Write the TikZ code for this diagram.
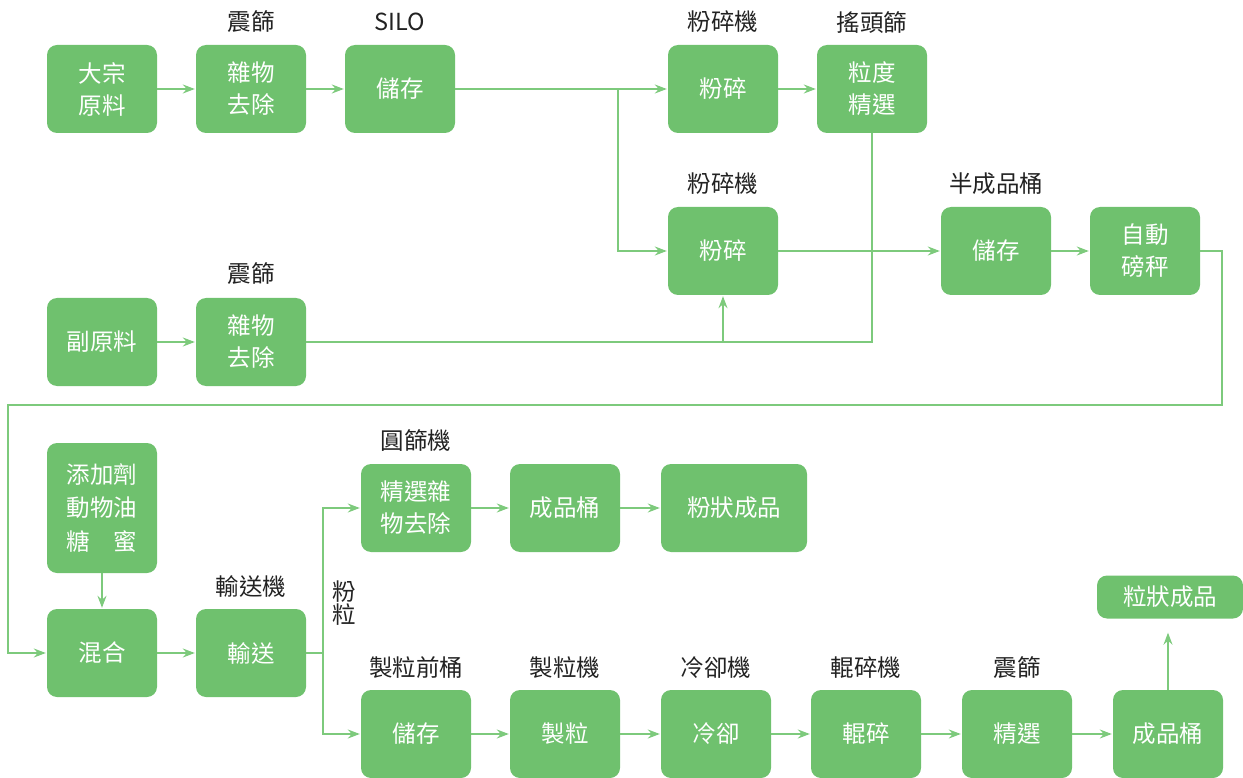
\documentclass[tikz,border=0pt]{standalone}
\usepackage{fontspec}
\setmainfont{Noto Sans CJK TC}
\usetikzlibrary{arrows.meta}
\definecolor{boxgreen}{RGB}{111,193,110}
\definecolor{linegreen}{RGB}{125,202,124}
\definecolor{tagdark}{RGB}{34,34,34}
\newcommand\procfont{\fontsize{23.5}{32}\selectfont}
\newcommand\tagfont{\fontsize{23.5}{21}\selectfont}
\tikzset{
  proc/.style={rectangle, rounded corners=10pt, fill=boxgreen, text=white,
    minimum width=110pt, minimum height=88pt, inner sep=0pt, align=center, font=\procfont},
  tag/.style={text=tagdark, inner sep=0pt, align=center, font=\tagfont},
  flow/.style={draw=linegreen, line width=1.2pt, -{Stealth[length=12pt,width=9pt,inset=4pt]}, shorten >=1pt},
  pipe/.style={draw=linegreen, line width=1.2pt}
}
\begin{document}
\begin{tikzpicture}[x=1pt, y=-1pt]
  \useasboundingbox (0,0) rectangle (1243,778);
  \def\rowA{89} \def\rowB{251} \def\rowC{342}
  \def\rowD{508} \def\rowE{653} \def\rowF{734}
  \node[proc] (rawA) at (102,\rowA) {大宗\\原料};
  \node[proc] (sieveA) at (251,\rowA) {雜物\\去除};
  \node[proc] (silo) at (400,\rowA) {儲存};
  \node[proc] (millA) at (723,\rowA) {粉碎};
  \node[proc] (grade) at (872,\rowA) {粒度\\精選};
  \node[proc] (millB) at (723,\rowB) {粉碎};
  \node[proc] (semibin) at (996,\rowB) {儲存};
  \node[proc] (scale) at (1145,\rowB) {自動\\磅秤};
  \node[proc] (rawB) at (102,\rowC) {副原料};
  \node[proc] (sieveB) at (251,\rowC) {雜物\\去除};
  \node[proc, minimum height=130pt, font=\fontsize{23.5}{33.5}\selectfont] (additive) at (102,\rowD) {添加劑\\動物油\\糖　蜜};
  \node[proc] (mix) at (102,\rowE) {混合};
  \node[proc] (convey) at (251,\rowE) {輸送};
  \node[proc] (screen) at (416,\rowD) {精選雜\\物去除};
  \node[proc] (powderbin) at (565,\rowD) {成品桶};
  \node[proc, minimum width=146pt] (powder) at (734,\rowD) {粉狀成品};
  \node[proc] (prebin) at (416,\rowF) {儲存};
  \node[proc] (pellet) at (565,\rowF) {製粒};
  \node[proc] (cool) at (716,\rowF) {冷卻};
  \node[proc] (crumble) at (866,\rowF) {輥碎};
  \node[proc] (sift) at (1017,\rowF) {精選};
  \node[proc] (granbin) at (1168,\rowF) {成品桶};
  \node[proc, minimum width=146pt, minimum height=43pt] (granule) at (1170,597) {粒狀成品};
  \node[tag] (tagsieveA) at (251,22) {震篩};
  \node[tag] (tagsilo) at (400,22) {SILO};
  \node[tag] (tagmillA) at (723,22) {粉碎機};
  \node[tag] (taggrade) at (872,22) {搖頭篩};
  \node[tag] (tagmillB) at (723,184) {粉碎機};
  \node[tag] (tagsemibin) at (996,184) {半成品桶};
  \node[tag] (tagsieveB) at (251,274) {震篩};
  \node[tag] (tagscreen) at (416,441) {圓篩機};
  \node[tag] (tagconvey) at (251,587) {輸送機};
  \node[tag, font=\fontsize{23.5}{21.5}\selectfont] (tagsplit) at (344,603) {粉\\粒};
  \node[tag] (tagprebin) at (416,668) {製粒前桶};
  \node[tag] (tagpellet) at (565,668) {製粒機};
  \node[tag] (tagcool) at (716,668) {冷卻機};
  \node[tag] (tagcrumble) at (866,668) {輥碎機};
  \node[tag] (tagsift) at (1017,668) {震篩};
  \coordinate (splitA) at (618,\rowA);
  \coordinate (joinA) at (872,\rowC);
  \coordinate (loopA) at (1222,\rowB);
  \coordinate (loopB) at (1222,405);
  \coordinate (loopC) at (8,405);
  \coordinate (loopD) at (8,\rowE);
  \coordinate (splitB) at (323,\rowE);
  \draw[flow] (rawA) -- (sieveA);
  \draw[flow] (sieveA) -- (silo);
  \draw[flow] (silo) -- (millA);
  \draw[flow] (splitA) |- (millB);
  \draw[flow] (millA) -- (grade);
  \draw[flow] (grade.south) -- (joinA) -| (millB.south);
  \draw[pipe] (sieveB.east) -- (sieveB.east -| millB.south);
  \draw[flow] (millB) -- (semibin);
  \draw[flow] (semibin) -- (scale);
  \draw[flow] (scale.east) -- (loopA) -- (loopB) -- (loopC) -- (loopD) -- (mix.west);
  \draw[flow] (rawB) -- (sieveB);
  \draw[flow] (additive) -- (mix);
  \draw[flow] (mix) -- (convey);
  \draw[pipe] (convey.east) -- (splitB);
  \draw[flow] (splitB) |- (screen.west);
  \draw[flow] (splitB) |- (prebin.west);
  \draw[flow] (screen) -- (powderbin);
  \draw[flow] (powderbin) -- (powder);
  \draw[flow] (prebin) -- (pellet);
  \draw[flow] (pellet) -- (cool);
  \draw[flow] (cool) -- (crumble);
  \draw[flow] (crumble) -- (sift);
  \draw[flow] (sift) -- (granbin);
  \draw[flow, shorten >=14pt] (granbin.north) -- (granbin.north |- granule.south);
\end{tikzpicture}
\end{document}
